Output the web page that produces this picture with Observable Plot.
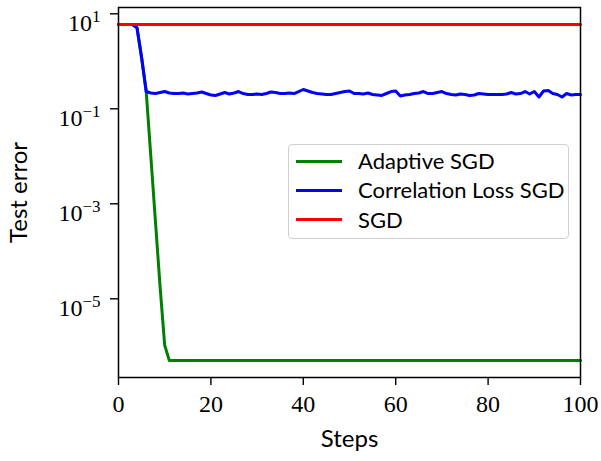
<!DOCTYPE html>
<html>
<head>
<meta charset="utf-8">
<script src="https://cdn.jsdelivr.net/npm/d3@7"></script>
<script src="https://cdn.jsdelivr.net/npm/@observablehq/plot@0.6"></script>
<style>
  html, body { margin: 0; padding: 0; background: #fff; }
  #wrap { position: relative; width: 601px; height: 461px; }
  #wrap svg { position: absolute; left: 0; top: 0; font-family: "Liberation Serif", serif; }
  #wrap svg g[aria-label="x-axis label"] text,
  #wrap svg g[aria-label="y-axis label"] text { font-family: "Lato", sans-serif; font-size: 24px; fill: #000; }
  #legend {
    position: absolute; left: 288px; top: 144px; width: 279px; height: 93px;
    border: 1.5px solid #d0d0d0; border-radius: 4px; background: #fff;
    font-family: "Lato", sans-serif; font-size: 22px; color: #000;
  }
  .row { position: absolute; left: 0; height: 24px; display: flex; align-items: center; }
  .sw { position: absolute; left: 7px; width: 46px; height: 3px; }
  .lab { position: absolute; left: 69px; white-space: nowrap; line-height: 24px; }
</style>
</head>
<body>
<div id="wrap"></div>
<script>
// ---- data ----
const seriesNames = ["Adaptive SGD", "Correlation Loss SGD", "SGD"];
const seriesColors = ["#008000", "#0000ff", "#ff0000"];

const adaptiveSteps = [0, 1, 2, 3, 4, 5, 6, 7, 8, 9, 10, 11, 100];
const adaptiveValues = [5.96, 5.96, 5.96, 5.96, 5.1, 1.2, 0.231, 0.0099, 4.2e-4, 1.8e-5, 1.05e-6, 5.0e-7, 5.0e-7];

const corrSteps = d3.range(0, 101);
const corrValues = [
  5.96, 5.96, 5.96, 5.96, 5.1, 1.2,
  0.231, 0.215, 0.210, 0.220, 0.231, 0.215, 0.210, 0.210, 0.215, 0.205,
  0.210, 0.215, 0.226, 0.210, 0.195, 0.191, 0.205, 0.220, 0.205, 0.215,
  0.231, 0.210, 0.200, 0.200, 0.205, 0.200, 0.210, 0.226, 0.220, 0.210,
  0.210, 0.215, 0.210, 0.231, 0.255, 0.237, 0.220, 0.210, 0.205, 0.200,
  0.200, 0.210, 0.220, 0.231, 0.237, 0.210, 0.210, 0.205, 0.215, 0.200,
  0.195, 0.191, 0.210, 0.231, 0.237, 0.186, 0.195, 0.200, 0.210, 0.215,
  0.231, 0.210, 0.210, 0.220, 0.231, 0.210, 0.200, 0.195, 0.205, 0.200,
  0.191, 0.195, 0.210, 0.205, 0.200, 0.200, 0.200, 0.200, 0.205, 0.220,
  0.205, 0.210, 0.231, 0.205, 0.231, 0.177, 0.237, 0.243, 0.210, 0.200,
  0.177, 0.210, 0.195, 0.200, 0.200
];

const sgdSteps = [0, 100];
const sgdValues = [5.96, 5.96];

const xTicks = [0, 20, 40, 60, 80, 100];
const yTicks = [10, 0.1, 0.001, 0.00001];
const xLabel = "Steps";
const yLabel = "Test error";

// ---- build rows ----
const rows = [];
adaptiveSteps.forEach((s, i) => rows.push({series: seriesNames[0], step: s, value: adaptiveValues[i]}));
corrSteps.forEach((s, i) => rows.push({series: seriesNames[1], step: s, value: corrValues[i]}));
sgdSteps.forEach((s, i) => rows.push({series: seriesNames[2], step: s, value: sgdValues[i]}));

const chart = Plot.plot({
  width: 601,
  height: 461,
  marginLeft: 118,
  marginRight: 21,
  marginTop: 7,
  marginBottom: 84,
  x: {domain: [0, 100]},
  y: {type: "log", domain: [Math.pow(10, -6.657), Math.pow(10, 1.133)]},
  color: {domain: seriesNames, range: seriesColors},
  marks: [
    Plot.axisX({ticks: xTicks, tickSize: 8, tickPadding: 9, strokeWidth: 1.4, fontSize: 24, tickFormat: d => String(d),
      label: xLabel, labelAnchor: "center", labelArrow: "none", labelOffset: 69}),
    Plot.axisY({ticks: yTicks, tickSize: 8, tickPadding: 10, strokeWidth: 1.4, fontSize: 24,
      tickFormat: d => String(Math.round(Math.log10(d))),
      label: yLabel, labelAnchor: "center", labelArrow: "none", labelOffset: 109}),
    Plot.line(rows.filter(d => d.series === seriesNames[0]), {x: "step", y: "value", stroke: "series", strokeWidth: 3}),
    Plot.line(rows.filter(d => d.series === seriesNames[1]), {x: "step", y: "value", stroke: "series", strokeWidth: 3}),
    Plot.line(rows.filter(d => d.series === seriesNames[2]), {x: "step", y: "value", stroke: "series", strokeWidth: 3}),
    Plot.frame({stroke: "#000", strokeWidth: 1.5})
  ]
});

// superscript exponents on y tick labels
chart.querySelectorAll('g[aria-label="y-axis tick label"] text').forEach(t => {
  const e = t.textContent.replace("-", "\u2212");
  t.textContent = "";
  t.setAttribute("dy", "0.4em");
  const base = document.createElementNS("http://www.w3.org/2000/svg", "tspan");
  base.textContent = "10";
  const sup = document.createElementNS("http://www.w3.org/2000/svg", "tspan");
  sup.textContent = e;
  sup.setAttribute("font-size", "17");
  sup.setAttribute("dy", "-9");
  t.appendChild(base);
  t.appendChild(sup);
});

const wrap = document.getElementById("wrap");
wrap.appendChild(chart);

// legend
const legend = document.createElement("div");
legend.id = "legend";
seriesNames.forEach((name, i) => {
  const row = document.createElement("div");
  row.className = "row";
  row.style.top = (4 + i * 29.3) + "px";
  const sw = document.createElement("div");
  sw.className = "sw";
  sw.style.background = seriesColors[i];
  sw.style.top = "10.5px";
  const lab = document.createElement("div");
  lab.className = "lab";
  lab.textContent = name;
  row.appendChild(sw);
  row.appendChild(lab);
  legend.appendChild(row);
});
wrap.appendChild(legend);
</script>
</body>
</html>
